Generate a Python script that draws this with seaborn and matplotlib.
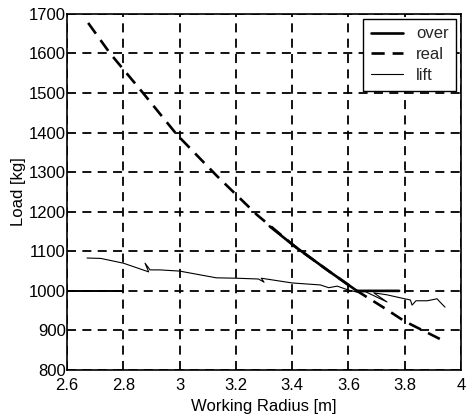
import pandas as pd
import matplotlib
matplotlib.use("Agg")
import matplotlib.pyplot as plt
import seaborn as sns

# Values
real_radius = [2.675, 2.753, 2.87, 2.99, 3.133, 3.275, 3.41, 3.53, 3.63, 3.72, 3.8, 3.943]
real_load = [1677, 1600, 1500, 1395, 1290, 1192, 1112, 1050, 1000, 960, 923, 872]

over_radius = [3.32, 3.41, 3.53, 3.63, 3.78]
over_load = [1163, 1112, 1050, 1000, 1000]
over_radius_left = [2.6, 2.8]
over_load_left = [1000, 1000]

lift_radius = [2.671, 2.72, 2.8, 2.89, 2.877, 2.895, 2.93, 3.0, 3.13, 3.2, 3.28, 3.3, 3.29,
               3.4, 3.5, 3.53, 3.56, 3.6, 3.63, 3.66, 3.737, 3.69, 3.737, 3.8, 3.82, 3.826,
               3.84, 3.88, 3.915, 3.925, 3.943]
lift_load = [1083, 1082, 1070, 1048, 1070, 1053, 1053, 1050, 1033, 1032, 1030, 1022, 1032,
             1020, 1015, 1008, 1012, 1002, 997, 998, 972, 995, 990, 980, 977, 964,
             975, 975, 980, 972, 959]

x_ticks = [2.6, 2.8, 3.0, 3.2, 3.4, 3.6, 3.8, 4.0]
x_tick_labels = ["2.6", "2.8", "3", "3.2", "3.4", "3.6", "3.8", "4"]
y_ticks = [800, 900, 1000, 1100, 1200, 1300, 1400, 1500, 1600, 1700]

real_df = pd.DataFrame({"radius": real_radius, "load": real_load})
over_df = pd.DataFrame({"radius": over_radius, "load": over_load})
over_left_df = pd.DataFrame({"radius": over_radius_left, "load": over_load_left})
lift_df = pd.DataFrame({"radius": lift_radius, "load": lift_load})

sns.set_theme(style="white")
plt.rcParams["font.family"] = ["Liberation Sans", "DejaVu Sans"]

fig = plt.figure(figsize=(4.69, 4.20), dpi=100)
ax = fig.add_axes([0.143, 0.119, 0.840, 0.848])

sns.lineplot(data=over_df, x="radius", y="load", ax=ax, color="black", lw=1.9,
             sort=False, estimator=None, label="over")
sns.lineplot(data=over_left_df, x="radius", y="load", ax=ax, color="black", lw=1.4,
             sort=False, estimator=None)
sns.lineplot(data=real_df, x="radius", y="load", ax=ax, color="black", lw=1.9,
             linestyle=(0, (5, 3)), sort=False, estimator=None, label="real")
sns.lineplot(data=lift_df, x="radius", y="load", ax=ax, color="black", lw=0.8,
             sort=False, estimator=None, label="lift")

ax.set_xlim(2.6, 4.0)
ax.set_ylim(800, 1700)
ax.set_xticks(x_ticks)
ax.set_xticklabels(x_tick_labels)
ax.set_yticks(y_ticks)
ax.tick_params(direction="in", length=4, width=1, colors="black", labelsize=12)
ax.tick_params(axis="x", pad=6)
ax.tick_params(axis="y", pad=1)
ax.grid(True, color="black", linestyle=(0, (5, 3.5)), lw=1.3)
ax.set_axisbelow(True)
for s in ax.spines.values():
    s.set_color("black")
    s.set_linewidth(1.2)

ax.set_xlabel("Working Radius [m]", fontsize=12, color="black", labelpad=4)
ax.set_ylabel("Load [kg]", fontsize=12, color="black", labelpad=2)

leg = ax.legend(loc="upper right", fontsize=12, frameon=True, fancybox=False,
                handlelength=1.9, borderaxespad=0.3, labelspacing=0.35,
                borderpad=0.45, handletextpad=0.8)
leg.get_frame().set_edgecolor("black")
leg.get_frame().set_linewidth(1.0)
leg.get_frame().set_alpha(1)

fig.savefig("out.png", dpi=100)
